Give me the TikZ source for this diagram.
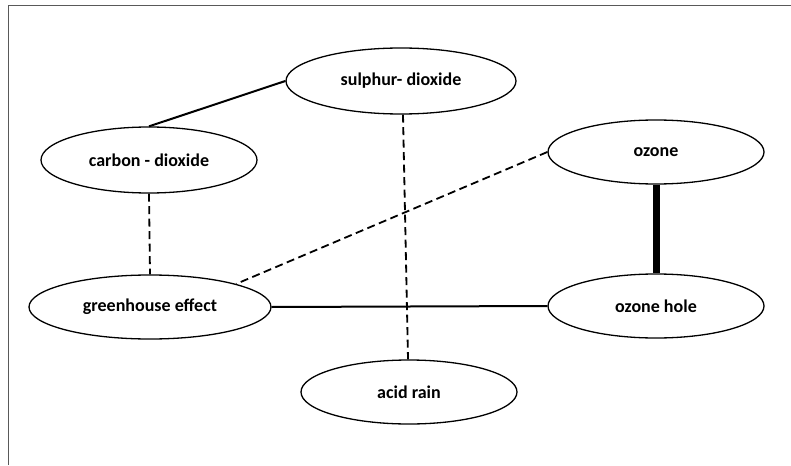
\documentclass[tikz,border=0pt]{standalone}
\usepackage{fontspec}
\setmainfont{Carlito}
\usetikzlibrary{shapes.geometric}
\begin{document}
\begin{tikzpicture}[x=1pt,y=-1pt,
  bub/.style={draw=black, line width=1.3pt, ellipse, inner sep=0pt, font=\fontsize{18}{20}\selectfont\bfseries},
  link/.style={draw=black, line width=2pt},
  dlink/.style={draw=black, line width=1.8pt, dash pattern=on 8pt off 4.5pt}]
\useasboundingbox (0,0) rectangle (791,465);
\draw[draw=black!65, line width=1pt] (8,465) -- (8,6) -- (791,6);
\node[bub, minimum width=230pt, minimum height=66pt] (sul) at (401,81) {sulphur- dioxide};
\node[bub, minimum width=216pt, minimum height=66pt] (car) at (149,160) {carbon - dioxide};
\node[bub, minimum width=216pt, minimum height=64pt] (ozo) at (656,152) {ozone};
\node[bub, minimum width=242pt, minimum height=64pt] (gre) at (150,307) {greenhouse effect};
\node[bub, minimum width=216pt, minimum height=64pt] (hol) at (656,306) {ozone hole};
\node[bub, minimum width=216pt, minimum height=64pt] (aci) at (409,392) {acid rain};
\draw[link] (car.north) -- (sul.west);
\draw[dlink] (car.south) -- (gre.north);
\draw[dlink] ([xshift=2pt]sul.south) -- ([xshift=-1pt]aci.north);
\draw[dlink] (ozo.west) -- (gre.15);
\draw[draw=black, line width=7pt] (ozo.south) -- (hol.north);
\draw[link] (gre.east) -- (hol.west);
\end{tikzpicture}
\end{document}
